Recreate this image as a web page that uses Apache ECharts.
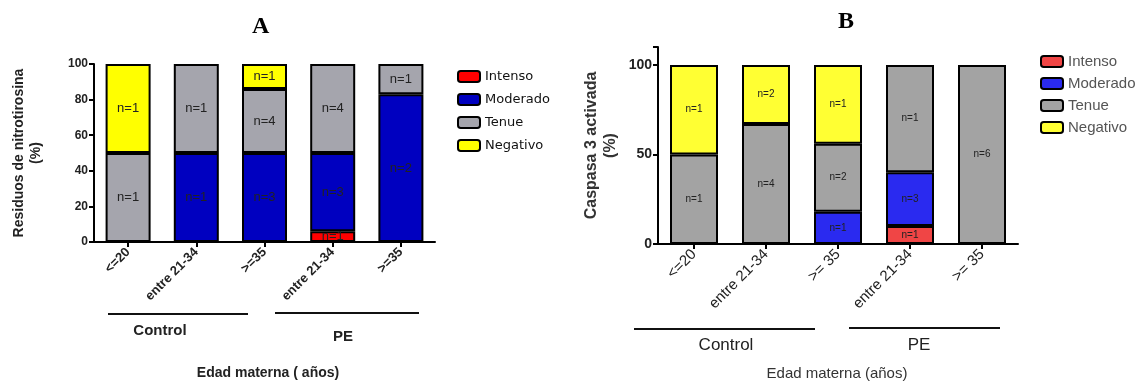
<!DOCTYPE html>
<html><head><meta charset="utf-8">
<script src="https://cdn.jsdelivr.net/npm/echarts@6/dist/echarts.min.js"></script>
<style>html,body{margin:0;padding:0;background:#fff}#c{width:1145px;height:385px}</style>
</head><body><div id="c"></div>
<script>
// ---- Data ----
const categoriesA = ['<=20', 'entre 21-34', '>=35', 'entre 21-34', '>=35'];
const categoriesB = ['<=20', 'entre 21-34', '>= 35', 'entre 21-34', '>= 35'];
const seriesNames = ['Intenso', 'Moderado', 'Tenue', 'Negativo'];

const intensoA  = [0, 0, 0, 6, 0];
const moderadoA = [0, 50, 50, 44, 83];
const tenueA    = [50, 50, 36, 50, 17];
const negativoA = [50, 0, 14, 0, 0];
const intensoLblA  = ['', '', '', 'n=1', ''];
const moderadoLblA = ['', 'n=1', 'n=3', 'n=3', 'n=2'];
const tenueLblA    = ['n=1', 'n=1', 'n=4', 'n=4', 'n=1'];
const negativoLblA = ['n=1', '', 'n=1', '', ''];

const intensoB  = [0, 0, 0, 10, 0];
const moderadoB = [0, 0, 18, 30, 0];
const tenueB    = [50, 67, 38, 60, 100];
const negativoB = [50, 33, 44, 0, 0];
const intensoLblB  = ['', '', '', 'n=1', ''];
const moderadoLblB = ['', '', 'n=1', 'n=3', ''];
const tenueLblB    = ['n=1', 'n=4', 'n=2', 'n=1', 'n=6'];
const negativoLblB = ['n=1', 'n=2', 'n=1', '', ''];

const yTicksA = [0, 20, 40, 60, 80, 100];
const yTicksB = [0, 50, 100];

// ---- Build ----
const colorsA = ['#ff0000', '#0000c0', '#a5a5ad', '#ffff00'];
const colorsB = ['#f04545', '#2a2af0', '#a3a3a3', '#ffff33'];
const valsA = [intensoA, moderadoA, tenueA, negativoA];
const lblsA = [intensoLblA, moderadoLblA, tenueLblA, negativoLblA];
const valsB = [intensoB, moderadoB, tenueB, negativoB];
const lblsB = [intensoLblB, moderadoLblB, tenueLblB, negativoLblB];

function mkSeries(vals, lbls, colors, idx, suffix, fontSize, bw) {
  return seriesNames.map((n, i) => ({
    name: n + suffix, type: 'bar', stack: 'tot' + idx,
    xAxisIndex: idx, yAxisIndex: idx, barWidth: bw,
    data: vals[i].map(v => v === 0 ? null : v),
    itemStyle: { color: colors[i], borderColor: '#000', borderWidth: 2 },
    label: { show: true, position: 'inside', color: '#222', fontSize: fontSize,
      fontFamily: 'Liberation Sans, Arial', formatter: p => lbls[i][p.dataIndex] },
    emphasis: { disabled: true }, animation: false
  }));
}

const chart = echarts.init(document.getElementById('c'), null, { renderer: 'canvas' });
const axLine = { show: true, lineStyle: { color: '#000', width: 2 } };
const axTick = { show: true, length: 5, lineStyle: { color: '#000', width: 2 } };

chart.setOption({
  animation: false,
  grid: [
    { left: 94, top: 64, width: 341, height: 178 },
    { left: 658, top: 47, width: 360, height: 197 }
  ],
  xAxis: [
    { type: 'category', gridIndex: 0, data: categoriesA, axisLine: axLine,
      axisTick: { ...axTick, alignWithLabel: true },
      axisLabel: { rotate: 45, interval: 0, color: '#222', fontWeight: 'bold', fontSize: 13,
        fontFamily: 'Liberation Sans, Arial', margin: 8 } },
    { type: 'category', gridIndex: 1, data: categoriesB, axisLine: axLine,
      axisTick: { ...axTick, alignWithLabel: true },
      axisLabel: { rotate: 45, interval: 0, color: '#222', fontSize: 15,
        fontFamily: 'Liberation Sans, Arial', margin: 8 } }
  ],
  yAxis: [
    { type: 'value', gridIndex: 0, min: yTicksA[0], max: yTicksA[yTicksA.length - 1], interval: 20,
      axisLine: axLine, axisTick: axTick, splitLine: { show: false },
      axisLabel: { color: '#222', fontWeight: 'bold', fontSize: 12, fontFamily: 'Liberation Sans, Arial', margin: 6 },
      name: 'Residuos de nitrotirosina\n(%)', nameLocation: 'middle', nameGap: 49, nameRotate: 90,
      nameTextStyle: { color: '#222', fontWeight: 'bold', fontSize: 14, fontFamily: 'Liberation Sans, Arial', lineHeight: 17 } },
    { type: 'value', gridIndex: 1, min: 0, max: 110, interval: 50,
      axisLine: axLine, axisTick: axTick, splitLine: { show: false },
      axisLabel: { color: '#222', fontWeight: 'bold', fontSize: 14, fontFamily: 'Liberation Sans, Arial', margin: 6,
        formatter: v => yTicksB.includes(v) ? String(v) : '' },
      name: 'Caspasa 3 activada\n(%)', nameLocation: 'middle', nameGap: 38, nameRotate: 90,
      nameTextStyle: { color: '#333', fontWeight: 'bold', fontSize: 16, fontFamily: 'Liberation Sans, Arial', lineHeight: 19 } }
  ],
  legend: [
    { orient: 'vertical', left: 452, top: 65, itemWidth: 22, itemHeight: 11, itemGap: 10,
      data: seriesNames.map(n => n + ' A'), formatter: n => n.replace(/ A$/, ''),
      textStyle: { color: '#111', fontSize: 13, fontFamily: 'DejaVu Sans' }, selectedMode: false },
    { orient: 'vertical', left: 1035, top: 49, itemWidth: 22, itemHeight: 11, itemGap: 7,
      data: seriesNames.map(n => n + ' B'), formatter: n => n.replace(/ B$/, ''),
      textStyle: { color: '#555', fontSize: 15, fontFamily: 'Liberation Sans, Arial' }, selectedMode: false }
  ],
  series: [
    ...mkSeries(valsA, lblsA, colorsA, 0, ' A', 13, 45),
    ...mkSeries(valsB, lblsB, colorsB, 1, ' B', 10, 48)
  ],
  graphic: [
    { type: 'text', left: 252, top: 15, style: { text: 'A', font: 'bold 24px "Liberation Serif"', fill: '#000' } },
    { type: 'text', left: 838, top: 10, style: { text: 'B', font: 'bold 24px "Liberation Serif"', fill: '#000' } },
    { type: 'line', shape: { x1: 108, y1: 314, x2: 248, y2: 314 }, style: { stroke: '#111', lineWidth: 2 } },
    { type: 'line', shape: { x1: 275, y1: 313, x2: 419, y2: 313 }, style: { stroke: '#111', lineWidth: 2 } },
    { type: 'text', x: 160, y: 331, style: { text: 'Control', font: 'bold 15px "Liberation Sans"', fill: '#222', align: 'center', verticalAlign: 'middle' } },
    { type: 'text', x: 343, y: 337, style: { text: 'PE', font: 'bold 15px "Liberation Sans"', fill: '#222', align: 'center', verticalAlign: 'middle' } },
    { type: 'text', x: 268, y: 373, style: { text: 'Edad materna ( años)', font: 'bold 14px "Liberation Sans"', fill: '#222', align: 'center', verticalAlign: 'middle' } },
    { type: 'line', shape: { x1: 634, y1: 329, x2: 815, y2: 329 }, style: { stroke: '#111', lineWidth: 2 } },
    { type: 'line', shape: { x1: 849, y1: 328, x2: 1000, y2: 328 }, style: { stroke: '#111', lineWidth: 2 } },
    { type: 'text', x: 726, y: 345, style: { text: 'Control', font: '17px "Liberation Sans"', fill: '#222', align: 'center', verticalAlign: 'middle' } },
    { type: 'text', x: 919, y: 345, style: { text: 'PE', font: '17px "Liberation Sans"', fill: '#222', align: 'center', verticalAlign: 'middle' } },
    { type: 'text', x: 837, y: 374, style: { text: 'Edad materna (años)', font: '15px "Liberation Sans"', fill: '#333', align: 'center', verticalAlign: 'middle' } }
  ]
});
</script></body></html>
